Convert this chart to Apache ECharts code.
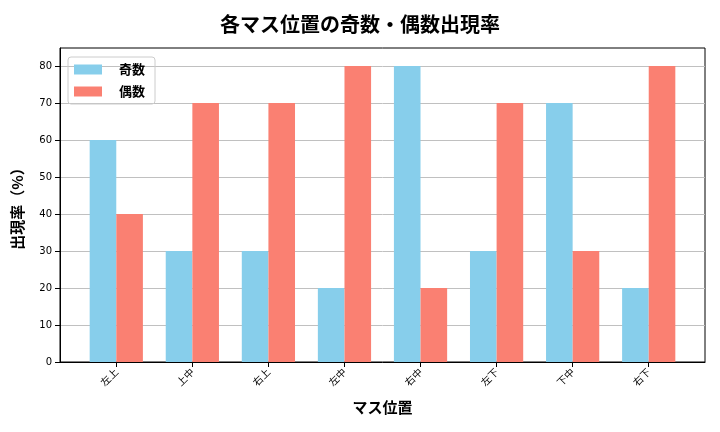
<!DOCTYPE html><html><head><meta charset="utf-8"><script src="https://cdn.jsdelivr.net/npm/echarts@6/dist/echarts.min.js"></script></head><body style="margin:0"><div id="c" style="width:720px;height:432px"></div><script>
const categories=['左上','上中','右上','左中','右中','左下','下中','右下'];
const oddValues=[60,30,30,20,80,30,70,20];
const evenValues=[40,70,70,80,20,70,30,80];
const yTicks=[0,10,20,30,40,50,60,70,80];
const F='"Noto Sans CJK JP", sans-serif';
const ch=echarts.init(document.getElementById('c'));
ch.setOption({
 animation:false,
 title:{text:'各マス位置の奇数・偶数出現率',left:'center',top:9,textStyle:{fontFamily:F,fontSize:20,fontWeight:'bold',color:'#000'}},
 legend:{left:68,top:57,orient:'vertical',icon:'rect',itemWidth:28,itemHeight:10,itemGap:9,padding:[6,10,6,6],borderColor:'#ccc',borderWidth:1,borderRadius:3,textStyle:{fontFamily:F,fontSize:13,fontWeight:'bold',color:'#000',padding:[0,0,0,12]},data:['奇数','偶数']},
 grid:{left:60,right:15,top:48,bottom:70,show:true,borderColor:'#000',borderWidth:1},
 xAxis:{type:'value',min:-0.74,max:7.74,name:'マス位置',nameLocation:'middle',nameGap:38,nameTextStyle:{fontFamily:F,fontSize:15,fontWeight:'bold',color:'#000'},
  splitLine:{show:false},axisLine:{onZero:false,lineStyle:{color:'#000'}},
  axisTick:{show:true,customValues:[0,1,2,3,4,5,6,7],lineStyle:{color:'#000'}},
  axisLabel:{customValues:[0,1,2,3,4,5,6,7],rotate:45,fontFamily:F,fontSize:10,color:'#000',formatter:v=>categories[Math.round(v)]}},
 yAxis:{type:'value',min:0,max:84.86,name:'出現率（%）',nameLocation:'middle',nameGap:35,nameTextStyle:{fontFamily:F,fontSize:15,fontWeight:'bold',color:'#000'},
  axisLine:{show:true,onZero:false,lineStyle:{color:'#000'}},axisTick:{show:true,customValues:yTicks,lineStyle:{color:'#000'}},
  axisLabel:{customValues:yTicks,fontSize:10,color:'#000',fontFamily:'DejaVu Sans'},
  splitLine:{show:true,lineStyle:{color:'#c0c0c0'}}},
 series:[
  {name:'奇数',type:'bar',barWidth:26.6,barGap:'-100%',itemStyle:{color:'#87ceeb'},data:oddValues.map((v,i)=>[i-0.175,v])},
  {name:'偶数',type:'bar',barWidth:26.6,barGap:'-100%',itemStyle:{color:'#fa8072'},data:evenValues.map((v,i)=>[i+0.175,v])}
 ]
});
</script></body></html>
